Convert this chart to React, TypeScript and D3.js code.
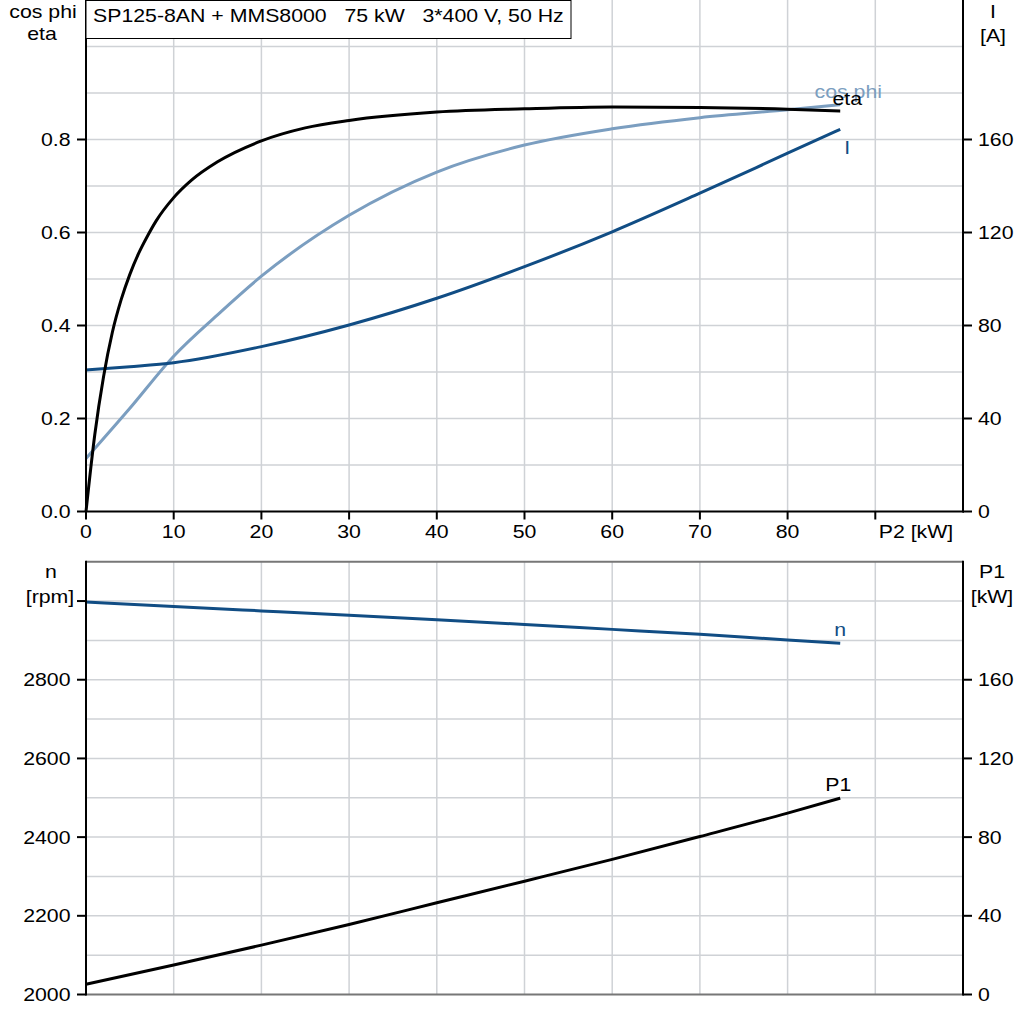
import React from "react";
import * as d3 from "d3";

// ---- data ----
const P2_ETA = [0, 1, 2, 3, 4, 5, 6, 7, 8, 10, 12, 15, 20, 25, 30, 40, 50, 60, 70, 80, 86];
const ETA = [0, 0.165, 0.29, 0.385, 0.455, 0.51, 0.555, 0.592, 0.625, 0.675, 0.712, 0.752, 0.797, 0.825, 0.841, 0.859, 0.866, 0.87, 0.869, 0.865, 0.861];

const P2_COS = [0, 5, 10, 15, 20, 30, 40, 50, 60, 70, 80, 86];
const COS_PHI = [0.114, 0.222, 0.334, 0.423, 0.506, 0.637, 0.73, 0.788, 0.823, 0.847, 0.864, 0.875];

const P2_I = [0, 5, 10, 20, 30, 40, 50, 60, 70, 80, 86];
const CURRENT = [60.9, 62.3, 64.0, 70.9, 80.2, 91.7, 105.3, 120.3, 136.9, 154.1, 164.4];

const P2_LOW = [0, 10, 20, 30, 40, 50, 60, 70, 80, 86];
const SPEED = [2997.5, 2986, 2975, 2964, 2952.5, 2940.5, 2928, 2915.5, 2901, 2893];
const P1 = [5.2, 15.0, 25.1, 35.6, 46.6, 57.6, 68.7, 80.3, 92.2, 99.8];

const X_TICKS = [0, 10, 20, 30, 40, 50, 60, 70, 80];
const X_GRID = [10, 20, 30, 40, 50, 60, 70, 80, 90];
const ETA_TICKS = [0, 0.2, 0.4, 0.6, 0.8];
const I_TICKS = [0, 40, 80, 120, 160];
const TOP_GRID = [0.1, 0.2, 0.3, 0.4, 0.5, 0.6, 0.7, 0.8, 0.9, 1.0];
const N_TICKS = [2000, 2200, 2400, 2600, 2800];
const N_GRID = [2100, 2200, 2300, 2400, 2500, 2600, 2700, 2800, 2900, 3000];
const P1_TICKS = [0, 40, 80, 120, 160];

const TITLE = "SP125-8AN + MMS8000   75 kW   3*400 V, 50 Hz";

// ---- style ----
const FONT = "'Liberation Sans', Arial, sans-serif";
const FS = 18.6;
const SX = 1.145;
const GRID = "#cfd2d6";
const C_COS = "#7b9ec0";
const C_I = "#114d84";

const L = 86, R = 963;
const T1 = 0, B1 = 511.5;
const T2 = 561.7, B2 = 994.5;

const x = d3.scaleLinear().domain([0, 100]).range([L, R]);
const yEta = d3.scaleLinear().domain([0, 1.1]).range([B1, T1]);
const yI = d3.scaleLinear().domain([0, 220]).range([B1, T1]);
const yN = d3.scaleLinear().domain([2000, 3100]).range([B2, T2]);
const yP1 = d3.scaleLinear().domain([0, 220]).range([B2, T2]);

function Txt({ x: tx, y: ty, anchor = "start", fill = "#000", children }: any) {
  return (
    <g transform={`translate(${tx},${ty}) scale(${SX},1)`}>
      <text
        x={0}
        y={0}
        textAnchor={anchor}
        fill={fill}
        fontFamily={FONT}
        fontSize={FS}
        xmlSpace="preserve"
        style={{ whiteSpace: "pre" }}
      >
        {children}
      </text>
    </g>
  );
}

function path(xs: number[], ys: number[], ys2: (v: number) => number) {
  const line = d3
    .line<number>()
    .x((_, i) => x(xs[i]))
    .y((v) => ys2(v))
    .curve(d3.curveMonotoneX);
  return line(ys) || "";
}

export default function App() {
  const last = (a: number[]) => a[a.length - 1];
  return (
    <svg
      width={1024}
      height={1024}
      style={{ position: "absolute", left: 0, top: 0, background: "#fff" }}
    >
      <rect x={0} y={0} width={1024} height={1024} fill="#fff" />

      {/* ---------- top chart grid ---------- */}
      {X_GRID.map((v) => (
        <line key={"tv" + v} x1={x(v)} x2={x(v)} y1={T1} y2={B1} stroke={GRID} strokeWidth={1.5} />
      ))}
      {TOP_GRID.map((v) => (
        <line key={"th" + v} x1={L} x2={R} y1={yEta(v)} y2={yEta(v)} stroke={GRID} strokeWidth={1.5} />
      ))}

      {/* ---------- bottom chart grid ---------- */}
      {X_GRID.map((v) => (
        <line key={"bv" + v} x1={x(v)} x2={x(v)} y1={T2} y2={B2} stroke={GRID} strokeWidth={1.5} />
      ))}
      {N_GRID.map((v) => (
        <line key={"bh" + v} x1={L} x2={R} y1={yN(v)} y2={yN(v)} stroke={GRID} strokeWidth={1.5} />
      ))}

      {/* ---------- top chart curves ---------- */}
      <path d={path(P2_COS, COS_PHI, yEta)} fill="none" stroke={C_COS} strokeWidth={3} />
      <path d={path(P2_I, CURRENT, yI)} fill="none" stroke={C_I} strokeWidth={3} />
      <path d={path(P2_ETA, ETA, yEta)} fill="none" stroke="#000" strokeWidth={3} />

      {/* curve labels */}
      <Txt x={x(last(P2_COS)) + 8} y={yEta(last(COS_PHI)) - 7} anchor="middle" fill={C_COS}>cos phi</Txt>
      <Txt x={x(last(P2_ETA)) + 7} y={yEta(last(ETA)) - 6} anchor="middle">eta</Txt>
      <Txt x={x(last(P2_I)) + 7} y={yI(last(CURRENT)) + 25} anchor="middle" fill={C_I}>I</Txt>

      {/* ---------- top chart axes ---------- */}
      <line x1={L} x2={L} y1={T1} y2={B1 + 1} stroke="#000" strokeWidth={2} />
      <line x1={R} x2={R} y1={T1} y2={B1 + 1} stroke="#000" strokeWidth={2} />
      <line x1={L - 1} x2={R + 1} y1={B1} y2={B1} stroke="#000" strokeWidth={2} />
      {[...X_TICKS, 90].map((v) => (
        <line key={"xt" + v} x1={x(v)} x2={x(v)} y1={B1} y2={B1 + 8} stroke="#000" strokeWidth={2} />
      ))}
      {X_TICKS.map((v) => (
        <Txt key={"xl" + v} x={x(v)} y={537.5} anchor="middle">{v}</Txt>
      ))}
      <Txt x={916} y={538} anchor="middle">P2 [kW]</Txt>

      {ETA_TICKS.map((v) => (
        <g key={"et" + v}>
          <line x1={L - 9} x2={L} y1={yEta(v)} y2={yEta(v)} stroke="#000" strokeWidth={2} />
          <Txt x={70.5} y={yEta(v) + 6.5} anchor="end">{v.toFixed(1)}</Txt>
        </g>
      ))}
      {I_TICKS.map((v) => (
        <g key={"it" + v}>
          <line x1={R} x2={R + 9} y1={yI(v)} y2={yI(v)} stroke="#000" strokeWidth={2} />
          <Txt x={978} y={yI(v) + 6.5} anchor="start">{v}</Txt>
        </g>
      ))}
      <Txt x={43} y={18} anchor="middle">cos phi</Txt>
      <Txt x={42} y={40} anchor="middle">eta</Txt>
      <Txt x={993} y={18} anchor="middle">I</Txt>
      <Txt x={993} y={42} anchor="middle">[A]</Txt>

      {/* title box */}
      <rect x={L} y={0.5} width={485} height={38} fill="#fff" stroke="#000" strokeWidth={1} />
      <Txt x={93} y={22} anchor="start">{TITLE}</Txt>

      {/* ---------- bottom chart curves ---------- */}
      <path d={path(P2_LOW, SPEED, yN)} fill="none" stroke={C_I} strokeWidth={3} />
      <path d={path(P2_LOW, P1, yP1)} fill="none" stroke="#000" strokeWidth={3} />
      <Txt x={x(last(P2_LOW))} y={yN(last(SPEED)) - 7} anchor="middle" fill={C_I}>n</Txt>
      <Txt x={x(last(P2_LOW)) - 2} y={yP1(last(P1)) - 7} anchor="middle">P1</Txt>

      {/* ---------- bottom chart axes ---------- */}
      <line x1={L} x2={R} y1={T2} y2={T2} stroke="#777" strokeWidth={2} />
      <line x1={L} x2={R} y1={B2} y2={B2} stroke="#777" strokeWidth={2} />
      <line x1={L} x2={L} y1={T2 - 1} y2={B2 + 1} stroke="#000" strokeWidth={2} />
      <line x1={R} x2={R} y1={T2 - 1} y2={B2 + 1} stroke="#000" strokeWidth={2} />
      {[...N_TICKS, 3000].map((v) => (
        <line key={"nt" + v} x1={L - 9} x2={L} y1={yN(v)} y2={yN(v)} stroke="#000" strokeWidth={2} />
      ))}
      {N_TICKS.map((v) => (
        <Txt key={"nl" + v} x={70.5} y={yN(v) + 6.5} anchor="end">{v}</Txt>
      ))}
      {P1_TICKS.map((v) => (
        <g key={"pt" + v}>
          <line x1={R} x2={R + 9} y1={yP1(v)} y2={yP1(v)} stroke="#000" strokeWidth={2} />
          <Txt x={978} y={yP1(v) + 6.5} anchor="start">{v}</Txt>
        </g>
      ))}
      <Txt x={51} y={578} anchor="middle">n</Txt>
      <Txt x={50} y={603} anchor="middle">[rpm]</Txt>
      <Txt x={992} y={578} anchor="middle">P1</Txt>
      <Txt x={992} y={603} anchor="middle">[kW]</Txt>
    </svg>
  );
}
